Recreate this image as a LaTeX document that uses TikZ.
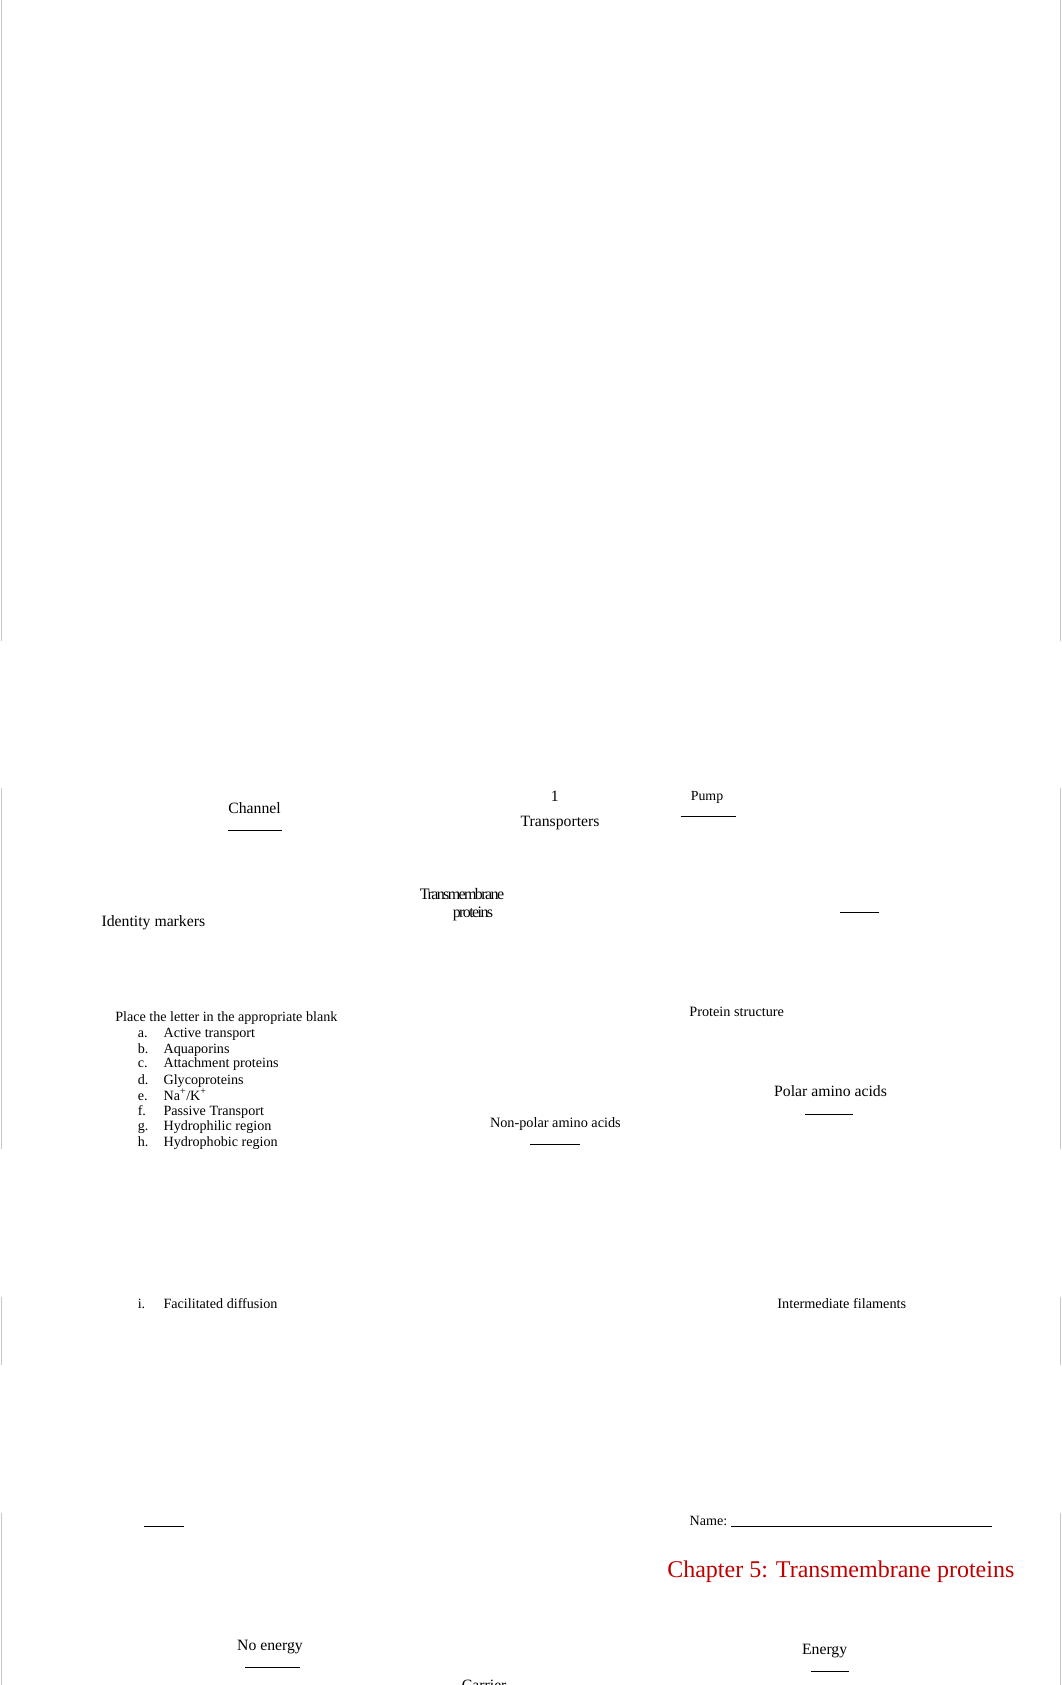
\documentclass[tikz,border=0pt]{standalone}
\usepackage{fontspec}
\setmainfont{Liberation Serif}
\definecolor{chapred}{HTML}{C00000}
\tikzset{
  lbl/.style={inner sep=0pt, anchor=base, font=\fontsize{11.8}{14}\selectfont},
  sml/.style={inner sep=0pt, anchor=base, font=\fontsize{10.7}{13}\selectfont},
  lst/.style={inner sep=0pt, anchor=base west, font=\fontsize{10.6}{13}\selectfont},
  tight/.style={inner sep=0pt, anchor=base, font=\fontsize{12}{14}\selectfont\addfontfeature{LetterSpace=-10}},
  blankline/.style={line width=0.6pt, black},
  pageedge/.style={line width=0.9pt, black!22}
}
\begin{document}
\begin{tikzpicture}[x=0.75pt,y=-0.75pt]
\useasboundingbox (0,0) rectangle (1062,1685);

% page edges
\draw[pageedge] (1.5,0) -- (1.5,641);
\draw[pageedge] (1.5,788) -- (1.5,1149);
\draw[pageedge] (1.5,1297) -- (1.5,1365);
\draw[pageedge] (1.5,1513) -- (1.5,1685);
\draw[pageedge] (1060.5,0) -- (1060.5,641);
\draw[pageedge] (1060.5,788) -- (1060.5,1149);
\draw[pageedge] (1060.5,1297) -- (1060.5,1365);
\draw[pageedge] (1060.5,1513) -- (1060.5,1685);

% top labels
\node[lbl] (channel) at (254.5,813) {Channel};
\draw[blankline] (227.6,830) -- (282.4,830);
\node[lbl] (num) at (554.7,801) {1};
\node[lbl] (transporters) at (560,826.5) {Transporters};
\node[sml, font=\fontsize{10.4}{12}\selectfont] (pump) at (707,800) {Pump};
\draw[blankline] (680.7,816.7) -- (736.2,816.7);

\node[tight] (tm1) at (462,899) {Transmembrane};
\node[tight] (tm2) at (473,917) {proteins};

\node[lbl] (identity) at (153.4,926.7) {Identity markers};
\draw[blankline] (839.8,912.7) -- (879.1,912.7);

% list
\node[lst] (place) at (115,1021.7) {Place the letter in the appropriate blank};
\node[lst] (la) at (137.5,1037.7) {a.};
\node[lst] (ta) at (163.3,1037.7) {Active transport};
\node[lst] (lb) at (137.5,1053.3) {b.};
\node[lst] (tb) at (163.3,1053.3) {Aquaporins};
\node[lst] (lc) at (137.5,1067.7) {c.};
\node[lst] (tc) at (163.3,1067.7) {Attachment proteins};
\node[lst] (ld) at (137.5,1084.3) {d.};
\node[lst] (td) at (163.3,1084.3) {Glycoproteins};
\node[lst] (le) at (137.5,1100) {e.};
\node[lst] (te) at (163.3,1100) {Na\textsuperscript{+}/K\textsuperscript{+}};
\node[lst] (lf) at (137.5,1115) {f.};
\node[lst] (tf) at (163.3,1115) {Passive Transport};
\node[lst] (lg) at (137.5,1130.7) {g.};
\node[lst] (tg) at (163.3,1130.7) {Hydrophilic region};
\node[lst] (lh) at (137.5,1146) {h.};
\node[lst] (th) at (163.3,1146) {Hydrophobic region};
\node[lst] (li) at (137.5,1308.3) {i.};
\node[lst] (ti) at (163.3,1308.3) {Facilitated diffusion};

% right side labels
\node[sml] (structure) at (736.7,1016.7) {Protein structure};
\node[lbl] (polar) at (830.5,1096.7) {Polar amino acids};
\draw[blankline] (805,1114.3) -- (852.8,1114.3);
\node[sml] (nonpolar) at (555.4,1127.7) {Non-polar amino acids};
\draw[blankline] (530,1144) -- (580,1144);
\node[sml] (filaments) at (841.8,1308.3) {Intermediate filaments};

% bottom
\draw[blankline] (144.3,1526) -- (183.5,1526);
\node[lst] (name) at (689.4,1525) {Name:};
\draw[blankline] (731,1526) -- (991.5,1526);
\node[inner sep=0pt, anchor=base, font=\fontsize{18}{21}\selectfont, text=chapred] (chapter) at (840.8,1577.5) {Chapter 5: Transmembrane proteins};
\node[lbl] (noenergy) at (270,1650) {No energy};
\draw[blankline] (245.2,1667.3) -- (300,1667.3);
\node[lbl] (energy) at (824.6,1654) {Energy};
\draw[blankline] (810.7,1671.7) -- (849.3,1671.7);
\node[lbl] (carrier) at (484.2,1690.5) {Carrier};
\end{tikzpicture}
\end{document}
